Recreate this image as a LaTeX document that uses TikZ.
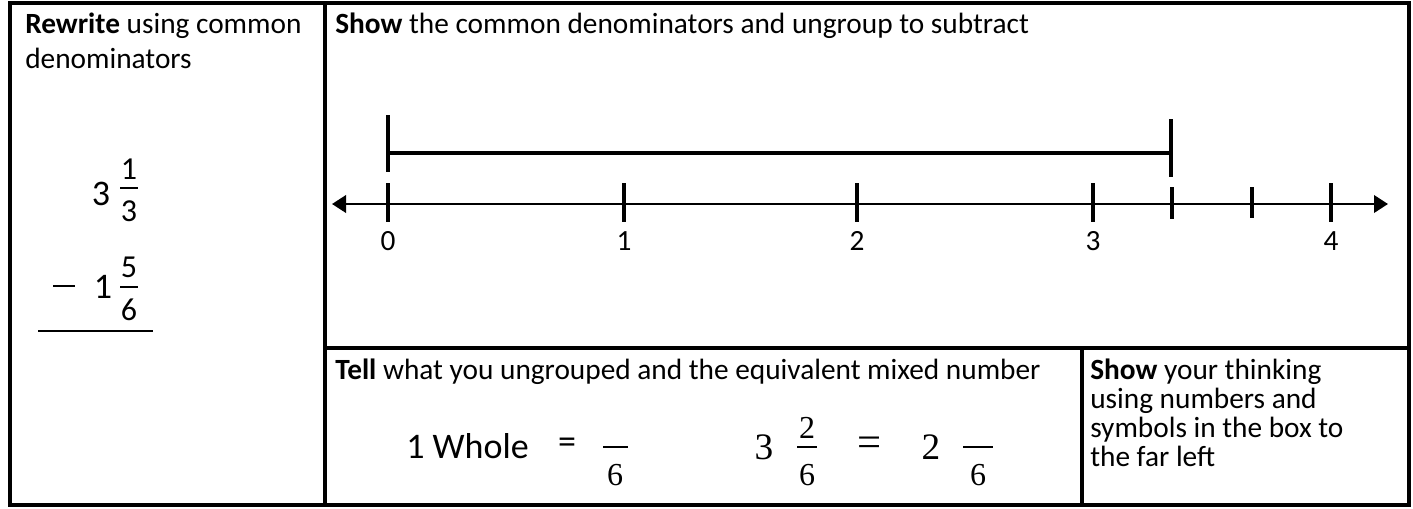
\documentclass[tikz,border=0pt]{standalone}
\usepackage{fontspec}
\setmainfont{Carlito}
\newfontfamily\cmath{Liberation Serif}
\usetikzlibrary{arrows.meta}
\tikzset{
  frame/.style={line width=3pt},
  numline/.style={line width=2pt},
  tickmark/.style={line width=2.4pt},
  barline/.style={line width=2.6pt},
  fracbar/.style={line width=1.8pt},
  txt/.style={anchor=base west,inner sep=0pt,font=\fontsize{22}{26}\selectfont},
  lab/.style={inner sep=0pt,font=\fontsize{22}{26}\selectfont},
  bigdig/.style={inner sep=0pt,font=\fontsize{27}{30}\selectfont},
  smalldig/.style={inner sep=0pt,font=\fontsize{24}{28}\selectfont},
  mbig/.style={inner sep=0pt,font=\cmath\fontsize{28}{32}\selectfont},
  msmall/.style={inner sep=0pt,font=\cmath\fontsize{24}{28}\selectfont},
}
\begin{document}
\begin{tikzpicture}[x=0.75pt,y=-0.75pt]
\useasboundingbox (0,0) rectangle (1413,508);
% frame
\draw[frame] (10,3) rectangle (1409,505);
\draw[frame] (325,3) -- (325,505);
\draw[frame] (325,348) -- (1409,348);
\draw[frame] (1082,348) -- (1082,505);

% left column
\node[txt] (rw1) at (25,33) {\textbf{Rewrite} using common};
\node[txt] (rw2) at (25,68) {denominators};
\node[bigdig] (a3) at (101,194) {3};
\node[smalldig] (an1) at (129,169) {1};
\coordinate (ab1l) at (120,188); \coordinate (ab1r) at (138,188);
\draw[fracbar] (ab1l) -- (ab1r);
\node[smalldig] (ad1) at (129,211) {3};
\node[inner sep=0pt] (minus) at (64,286) {\rule{16.5pt}{1.6pt}};
\node[bigdig] (b1) at (103,287) {1};
\node[smalldig] (bn5) at (129,267) {5};
\coordinate (bb1l) at (120,287); \coordinate (bb1r) at (138,287);
\draw[fracbar] (bb1l) -- (bb1r);
\node[smalldig] (bd6) at (129,310) {6};
\coordinate (ul) at (38,331); \coordinate (ur) at (153,331);
\draw[line width=1.8pt] (ul) -- (ur);

% top right
\node[txt] (show1) at (335,33) {\textbf{Show} the common denominators and ungroup to subtract};
\coordinate (L) at (332,204);
\coordinate (R) at (1388,204);
\draw[numline,{Triangle[length=10.5pt,width=13pt]}-{Triangle[length=10.5pt,width=13pt]}] (L) -- (R);
\foreach \x/\n in {388/0,624/1,857/2,1093/3,1331/4}{
  \draw[tickmark] (\x,183) -- (\x,222);
  \node[lab] (lab\n) at (\x,241) {\n};
}
\draw[tickmark] (1172,187) -- (1172,219);
\draw[tickmark] (1252,187) -- (1252,218);
\coordinate (bl1) at (388,115); \coordinate (bl2) at (388,172);
\coordinate (br1) at (1171,119); \coordinate (br2) at (1171,177);
\coordinate (bm1) at (388,153); \coordinate (bm2) at (1171,153);
\draw[barline] (bl1) -- (bl2);
\draw[barline] (br1) -- (br2);
\draw[barline] (bm1) -- (bm2);

% bottom middle
\node[txt] (tell) at (335,379) {\textbf{Tell} what you ungrouped and the equivalent mixed number};
\node[inner sep=0pt,anchor=base west,font=\fontsize{27}{30}\selectfont] (whole) at (406,458) {1 Whole};
\node[inner sep=0pt,font=\fontsize{27}{30}\selectfont] (eq1) at (567,446) {=};
\coordinate (f1l) at (603,447); \coordinate (f1r) at (628,447);
\draw[fracbar] (f1l) -- (f1r);
\node[msmall] (f1d) at (615,475) {6};
\node[mbig] (m3) at (764,447) {3};
\node[msmall] (f2n) at (807,428) {2};
\coordinate (f2l) at (797,447); \coordinate (f2r) at (817,447);
\draw[fracbar] (f2l) -- (f2r);
\node[msmall] (f2d) at (807,475) {6};
\node[inner sep=0pt,font=\cmath\fontsize{32}{36}\selectfont] (eq2) at (870,447) {=};
\node[mbig] (m2) at (931,447) {2};
\coordinate (f3l) at (963,447); \coordinate (f3r) at (993,447);
\draw[fracbar] (f3l) -- (f3r);
\node[msmall] (f3d) at (978,475) {6};

% bottom right
\node[txt] (sy1) at (1090,379) {\textbf{Show} your thinking};
\node[txt] (sy2) at (1090,408) {using numbers and};
\node[txt] (sy3) at (1090,437) {symbols in the box to};
\node[txt] (sy4) at (1090,466) {the far left};
\end{tikzpicture}
\end{document}
